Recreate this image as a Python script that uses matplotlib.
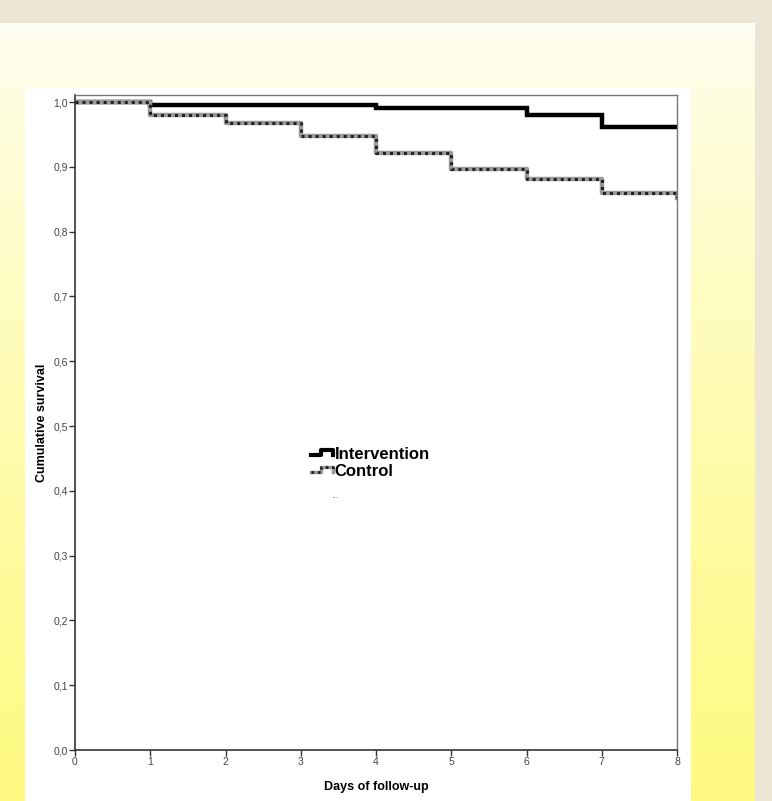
import matplotlib
matplotlib.use('Agg')
import matplotlib.pyplot as plt
import numpy as np
from matplotlib.lines import Line2D
from matplotlib.legend_handler import HandlerBase

plt.rcParams['font.family'] = ['Liberation Sans Narrow', 'Liberation Sans', 'DejaVu Sans']

# Kaplan-Meier steps
days = [0, 1, 2, 3, 4, 5, 6, 7, 8]
intervention = [1.0, 0.995, 0.995, 0.995, 0.991, 0.991, 0.980, 0.961, 0.961]
control = [1.0, 0.980, 0.968, 0.947, 0.921, 0.897, 0.881, 0.860, 0.852]

yticks = [0.0, 0.1, 0.2, 0.3, 0.4, 0.5, 0.6, 0.7, 0.8, 0.9, 1.0]
ytick_labels = [f'{v:.1f}'.replace('.', ',') for v in yticks]

W, H = 772, 801
fig = plt.figure(figsize=(W / 100, H / 100), dpi=100)
fig.patch.set_facecolor('#ede6d4')

# cream-to-yellow slide panel
panel = fig.add_axes([0, 0, 755 / W, (H - 23) / H])
t = np.linspace(0, 1, 256) ** 0.8
top = np.array([254, 254, 243]) / 255
bot = np.array([255, 250, 128]) / 255
grad = top[None, :] * (1 - t[:, None]) + bot[None, :] * t[:, None]
panel.imshow(grad[:, None, :], aspect='auto', extent=[0, 1, 0, 1])
panel.axis('off')

# white chart area
white = fig.add_axes([25 / W, 0, (691 - 25) / W, (H - 88) / H])
white.set_facecolor('white')
white.set_xticks([])
white.set_yticks([])
for s in white.spines.values():
    s.set_visible(False)

ax = fig.add_axes([75 / W, (H - 750) / H, (677 - 75) / W, (750 - 95) / H])
ax.set_facecolor('white')

ax.step(days, intervention, where='post', color='black', lw=3.2, solid_joinstyle='miter')
ax.step(days, control, where='post', color='#9a9a9a', lw=3.2)
ax.step(days, control, where='post', color='#222222', lw=2.2, ls=(0, (1, 1.3)))

ax.set_xlim(0, 8)
ax.set_ylim(0, 1.011)
ax.set_xticks(days)
ax.set_yticks(yticks)
ax.set_yticklabels(ytick_labels)
ax.tick_params(length=4, width=1, color='#333333', labelsize=7.5, labelcolor='#444444', pad=1)

for side in ['left', 'bottom']:
    ax.spines[side].set_color('#333333')
    ax.spines[side].set_linewidth(1.2)
for side in ['top', 'right']:
    ax.spines[side].set_color('#777777')
    ax.spines[side].set_linewidth(1)

ax.set_xlabel('Days of follow-up', fontsize=9, fontweight='bold', labelpad=10)
ax.set_ylabel('Cumulative survival', fontsize=9, fontweight='bold', labelpad=4)


class StepHandler(HandlerBase):
    def __init__(self, dotted=False):
        super().__init__()
        self.dotted = dotted

    def create_artists(self, legend, orig_handle, xdescent, ydescent, width, height, fontsize, trans):
        x = np.array([0, 0.45, 0.45, 1, 1]) * width - xdescent
        y = np.array([0.35, 0.35, 0.8, 0.8, 0.35]) * height - ydescent
        arts = []
        if self.dotted:
            arts.append(Line2D(x, y, color='#9a9a9a', lw=2.5, transform=trans))
            arts.append(Line2D(x, y, color='#222222', lw=2, ls=(0, (1, 1.3)), transform=trans))
        else:
            arts.append(Line2D(x, y, color='black', lw=3, transform=trans))
        return arts


h1 = Line2D([], [], color='black')
h2 = Line2D([], [], color='gray')
leg = ax.legend([h1, h2], ['Intervention', 'Control'], loc='center left',
                bbox_to_anchor=(0.367, 0.438), frameon=False, handlelength=1.3,
                handletextpad=0.12, labelspacing=0.15,
                prop={'family': ['Liberation Sans', 'DejaVu Sans'], 'weight': 'bold', 'size': 12},
                handler_map={h1: StepHandler(False), h2: StepHandler(True)})
ax.text(0.425, 0.385, '...', transform=ax.transAxes, fontsize=6, color='#666666')

fig.savefig('out.png', dpi=100)
